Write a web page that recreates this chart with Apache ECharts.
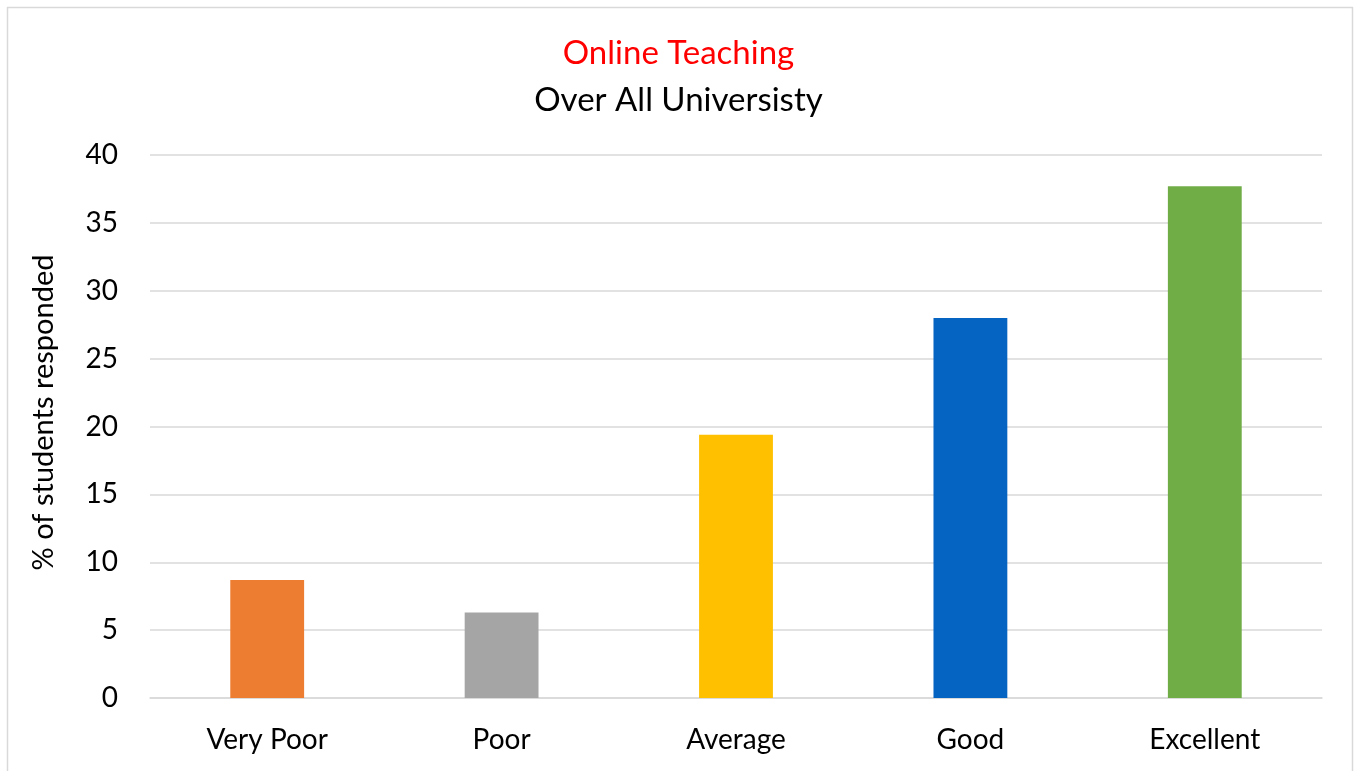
<!DOCTYPE html>
<html>
<head>
<meta charset="utf-8">
<script src="https://cdn.jsdelivr.net/npm/echarts@6/dist/echarts.min.js"></script>
<style>
html,body{margin:0;padding:0;background:#fff;}
#chart{width:1357px;height:771px;}
</style>
</head>
<body>
<div id="chart"></div>
<script>
const categories = ['Very Poor', 'Poor', 'Average', 'Good', 'Excellent'];
const values = [8.7, 6.3, 19.4, 28.0, 37.7];
const barColors = ['#ED7D31', '#A5A5A5', '#FFC000', '#0563C1', '#70AD47'];
const yTicks = { min: 0, max: 40, interval: 5 };

const FONT = 'Lato, "Open Sans", sans-serif';
const chart = echarts.init(document.getElementById('chart'), null, { renderer: 'canvas' });
chart.setOption({
  backgroundColor: '#ffffff',
  animation: false,
  graphic: [{
    type: 'rect',
    shape: { x: 7.5, y: 7.5, width: 1345, height: 780 },
    style: { fill: 'none', stroke: '#d9d9d9', lineWidth: 1.5 },
    silent: true
  }],
  title: [{
    text: 'Online Teaching',
    left: 'center',
    top: 32,
    textStyle: { color: '#FF0000', fontSize: 33, fontWeight: 'normal', fontFamily: FONT }
  }, {
    text: 'Over All Universisty',
    left: 'center',
    top: 79,
    textStyle: { color: '#000000', fontSize: 33, fontWeight: 'normal', fontFamily: FONT }
  }],
  grid: { left: 150, right: 35, top: 155, bottom: 73, containLabel: false },
  xAxis: {
    type: 'category',
    data: categories,
    axisLine: { show: true, lineStyle: { color: '#d9d9d9', width: 1.5 } },
    axisTick: { show: false },
    axisLabel: { color: '#000', fontSize: 28, fontFamily: FONT, margin: 28 }
  },
  yAxis: {
    type: 'value',
    min: yTicks.min,
    max: yTicks.max,
    interval: yTicks.interval,
    name: '% of students responded',
    nameLocation: 'middle',
    nameGap: 92,
    nameRotate: 90,
    nameTextStyle: { color: '#000', fontSize: 29, fontFamily: FONT, padding: [0, 0, 0, 28] },
    axisLine: { show: false },
    axisTick: { show: false },
    splitLine: { lineStyle: { color: '#d9d9d9', width: 1.5 } },
    axisLabel: { color: '#000', fontSize: 28, fontFamily: FONT, margin: 32 }
  },
  series: [{
    type: 'bar',
    data: values.map((v, i) => ({ value: v, itemStyle: { color: barColors[i] } })),
    barWidth: '31.5%'
  }]
});
</script>
</body>
</html>
